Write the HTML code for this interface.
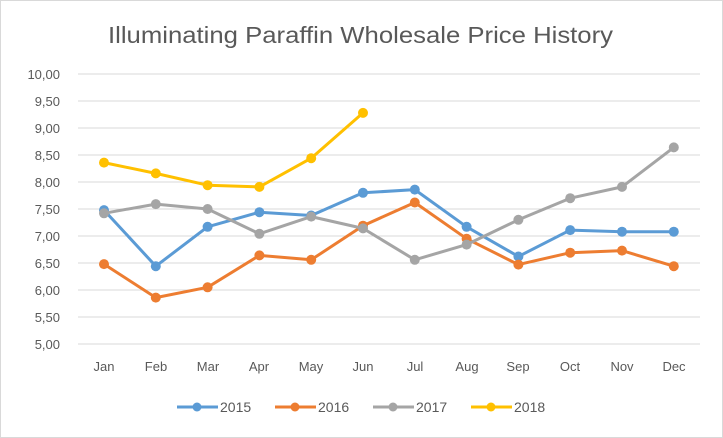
<!DOCTYPE html>
<html><head><style>body{margin:0;background:#fff}svg{display:block}</style></head><body>
<svg width="723" height="438" xmlns="http://www.w3.org/2000/svg" font-family="Liberation Sans, sans-serif">
<rect x="0.5" y="0.5" width="722" height="437" fill="#fff" stroke="#d9d9d9"/>
<text x="108" y="43" font-size="23" fill="#595959" textLength="505" lengthAdjust="spacingAndGlyphs">Illuminating Paraffin Wholesale Price History</text>
<g stroke="#d9d9d9" stroke-width="1">
<line x1="78" x2="700" y1="74" y2="74"/><line x1="78" x2="700" y1="101" y2="101"/><line x1="78" x2="700" y1="128" y2="128"/><line x1="78" x2="700" y1="155" y2="155"/><line x1="78" x2="700" y1="182" y2="182"/><line x1="78" x2="700" y1="209" y2="209"/><line x1="78" x2="700" y1="236" y2="236"/><line x1="78" x2="700" y1="263" y2="263"/><line x1="78" x2="700" y1="290" y2="290"/><line x1="78" x2="700" y1="317" y2="317"/><line x1="78" x2="700" y1="344" y2="344"/>
</g>
<g font-size="13" fill="#595959" text-anchor="end">
<text x="60" y="79">10,00</text><text x="60" y="106">9,50</text><text x="60" y="133">9,00</text><text x="60" y="160">8,50</text><text x="60" y="187">8,00</text><text x="60" y="214">7,50</text><text x="60" y="241">7,00</text><text x="60" y="268">6,50</text><text x="60" y="295">6,00</text><text x="60" y="322">5,50</text><text x="60" y="349">5,00</text>
</g>
<g font-size="13" fill="#595959" text-anchor="middle">
<text x="104" y="371">Jan</text><text x="156" y="371">Feb</text><text x="208" y="371">Mar</text><text x="259" y="371">Apr</text><text x="311" y="371">May</text><text x="363" y="371">Jun</text><text x="415" y="371">Jul</text><text x="467" y="371">Aug</text><text x="518" y="371">Sep</text><text x="570" y="371">Oct</text><text x="622" y="371">Nov</text><text x="674" y="371">Dec</text>
</g>
<defs>
<marker id="m1" markerWidth="12" markerHeight="12" refX="6" refY="6" markerUnits="userSpaceOnUse"><circle cx="6" cy="6" r="5" fill="#5b9bd5"/></marker>
<marker id="m2" markerWidth="12" markerHeight="12" refX="6" refY="6" markerUnits="userSpaceOnUse"><circle cx="6" cy="6" r="5" fill="#ed7d31"/></marker>
<marker id="m3" markerWidth="12" markerHeight="12" refX="6" refY="6" markerUnits="userSpaceOnUse"><circle cx="6" cy="6" r="5" fill="#a5a5a5"/></marker>
<marker id="m4" markerWidth="12" markerHeight="12" refX="6" refY="6" markerUnits="userSpaceOnUse"><circle cx="6" cy="6" r="5" fill="#ffc000"/></marker>
</defs>
<g fill="none" stroke-width="3" stroke-linejoin="round" stroke-linecap="round">
<polyline stroke="#5b9bd5" marker-start="url(#m1)" marker-mid="url(#m1)" marker-end="url(#m1)" points="104,210.1 155.8,266.2 207.6,226.8 259.4,212.2 311.2,215.5 363,192.8 414.8,189.6 466.6,226.8 518.4,256.5 570.2,230.1 622,231.7 673.8,231.7"/>
<polyline stroke="#ed7d31" marker-start="url(#m2)" marker-mid="url(#m2)" marker-end="url(#m2)" points="104,264.1 155.8,297.6 207.6,287.3 259.4,255.4 311.2,259.8 363,225.7 414.8,202.5 466.6,238.7 518.4,264.6 570.2,252.7 622,250.6 673.8,266.2"/>
<polyline stroke="#a5a5a5" marker-start="url(#m3)" marker-mid="url(#m3)" marker-end="url(#m3)" points="104,213.3 155.8,204.1 207.6,209 259.4,233.8 311.2,216.6 363,228.4 414.8,259.8 466.6,244.6 518.4,219.8 570.2,198.2 622,186.9 673.8,147.4"/>
<polyline stroke="#ffc000" marker-start="url(#m4)" marker-mid="url(#m4)" marker-end="url(#m4)" points="104,162.6 155.8,173.4 207.6,185.2 259.4,186.9 311.2,158.2 363,112.9"/>
</g>
<g stroke-width="3" font-size="14" fill="#595959">
<line x1="177" x2="218" y1="407" y2="407" stroke="#5b9bd5"/><circle cx="197" cy="407" r="4.5" fill="#5b9bd5"/><text x="220" y="412">2015</text>
<line x1="275" x2="316" y1="407" y2="407" stroke="#ed7d31"/><circle cx="295" cy="407" r="4.5" fill="#ed7d31"/><text x="318" y="412">2016</text>
<line x1="373" x2="414" y1="407" y2="407" stroke="#a5a5a5"/><circle cx="393" cy="407" r="4.5" fill="#a5a5a5"/><text x="416" y="412">2017</text>
<line x1="471" x2="512" y1="407" y2="407" stroke="#ffc000"/><circle cx="491" cy="407" r="4.5" fill="#ffc000"/><text x="514" y="412">2018</text>
</g>
</svg>
</body></html>
